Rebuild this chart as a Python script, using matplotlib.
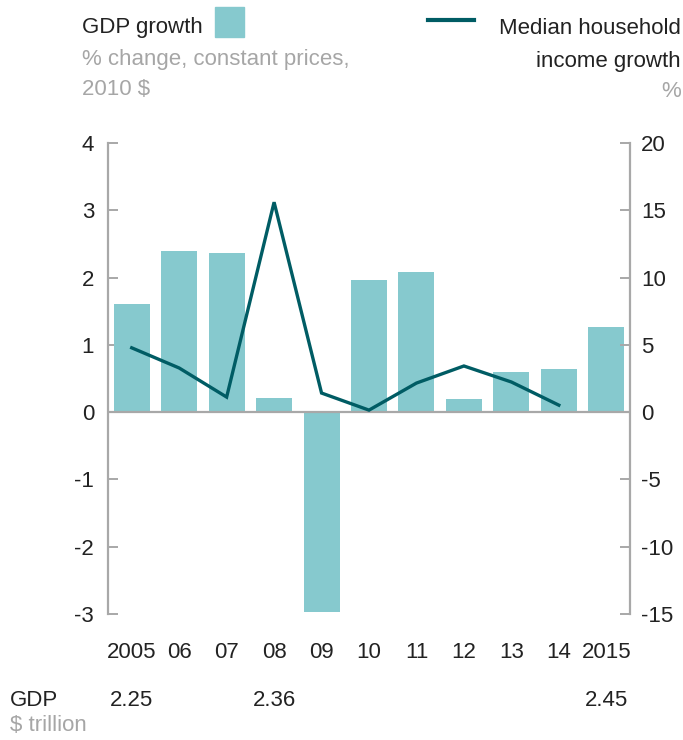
import matplotlib
matplotlib.use("Agg")
import matplotlib.pyplot as plt
from matplotlib.patches import Rectangle
from matplotlib.lines import Line2D

plt.rcParams['font.family'] = ['Liberation Sans', 'DejaVu Sans']
plt.rcParams['axes.unicode_minus'] = False

years = ['2005', '06', '07', '08', '09', '10', '11', '12', '13', '14', '2015']
gdp_growth = [1.61, 2.39, 2.37, 0.21, -2.97, 1.97, 2.09, 0.19, 0.59, 0.64, 1.27]
income_growth = [4.78, 3.28, 1.12, 15.6, 1.42, 0.15, 2.16, 3.43, 2.24, 0.52]
gdp_level_years = ['2005', '08', '2015']
gdp_level = ['2.25', '2.36', '2.45']

bar_col = '#86C9CE'
line_col = '#005C64'
axis_col = '#A8A8A8'
grey_txt = '#A6A6A6'
dark_txt = '#222222'
fs = 16
W, H = 683, 740


def px(x, y):
    # pixel position from the top-left -> figure fraction
    return x / W, 1 - y / H


fig = plt.figure(figsize=(W / 100, H / 100), dpi=100)
ax = fig.add_axes([108 / W, 126 / H, 522 / W, 471 / H])
ax2 = ax.twinx()

x = list(range(len(years)))
ax.bar(x, gdp_growth, width=0.76, color=bar_col, zorder=2)
ax.axhline(0, color=axis_col, lw=1.6, zorder=3)
ax2.plot(x[:len(income_growth)], income_growth, color=line_col, lw=2.4,
         solid_joinstyle='miter', zorder=4)

ax.set_xlim(-0.5, 10.5)
ax.set_ylim(-3, 4)
ax2.set_ylim(-15, 20)
ax.set_yticks(range(-3, 5))
ax2.set_yticks(range(-15, 21, 5))

for a in (ax, ax2):
    for s in a.spines.values():
        s.set_visible(False)
ax.spines['left'].set_visible(True)
ax.spines['left'].set_color(axis_col)
ax.spines['left'].set_linewidth(1.6)
ax2.spines['right'].set_visible(True)
ax2.spines['right'].set_color(axis_col)
ax2.spines['right'].set_linewidth(1.6)

ax.tick_params(axis='y', direction='in', length=7, width=1.4, color=axis_col,
               labelsize=fs, pad=10, labelcolor=dark_txt)
ax2.tick_params(axis='y', direction='in', length=7, width=1.4, color=axis_col,
                labelsize=fs, pad=8, labelcolor=dark_txt)
ax.set_xticks(x)
ax.set_xticklabels(years)
ax.tick_params(axis='x', length=0, labelsize=fs, pad=20, labelcolor=dark_txt)

# legend-style header
fig.text(*px(82, 33), 'GDP growth', fontsize=fs, color=dark_txt,
         va='baseline', ha='left')
fig.patches.append(Rectangle(px(215, 37), 29 / W, 30 / H,
                             transform=fig.transFigure, color=bar_col))
fig.text(*px(82, 65), '% change, constant prices,', fontsize=fs,
         color=grey_txt, va='baseline', ha='left')
fig.text(*px(82, 95), '2010 $', fontsize=fs, color=grey_txt,
         va='baseline', ha='left')

x0, y0 = px(428, 20)
x1, _ = px(474, 20)
fig.lines.append(Line2D([x0, x1], [y0, y0], transform=fig.transFigure,
                        color=line_col, lw=3))
fig.text(*px(681, 34), 'Median household', fontsize=fs,
         color=dark_txt, va='baseline', ha='right')
fig.text(*px(681, 67), 'income growth', fontsize=fs,
         color=dark_txt, va='baseline', ha='right')
fig.text(*px(681, 97), '%', fontsize=fs, color=grey_txt,
         va='baseline', ha='right')

# GDP level row under the axis
fig.text(*px(10, 706), 'GDP', fontsize=fs, color=dark_txt,
         va='baseline', ha='left')
fig.text(*px(10, 731), '$ trillion', fontsize=fs, color=grey_txt,
         va='baseline', ha='left')
for yr, val in zip(gdp_level_years, gdp_level):
    xi = years.index(yr)
    ax.annotate(val, xy=(xi, 0), xycoords=('data', 'figure fraction'),
                xytext=(xi, 1 - 706 / H),
                textcoords=('data', 'figure fraction'),
                fontsize=fs, color=dark_txt, ha='center', va='baseline')

fig.savefig('out.png', dpi=100)
